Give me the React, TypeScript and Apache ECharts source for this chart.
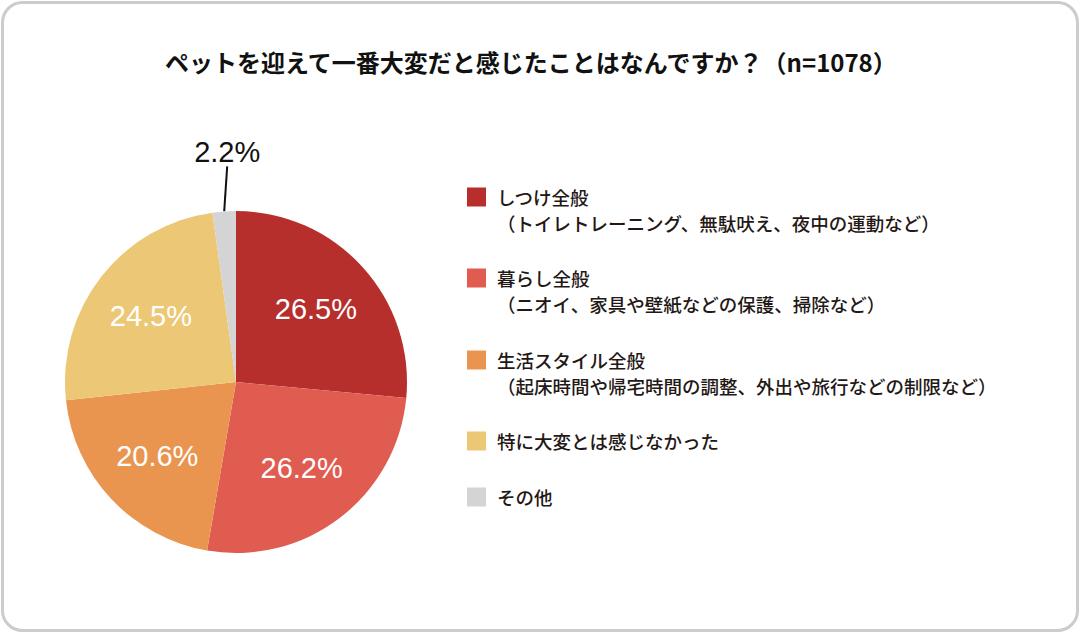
import React, { useEffect, useRef } from "react";
import * as echarts from "echarts";

const categories = ["しつけ全般", "暮らし全般", "生活スタイル全般", "特に大変とは感じなかった", "その他"];
const descriptions = [
  "（トイレトレーニング、無駄吠え、夜中の運動など）",
  "（ニオイ、家具や壁紙などの保護、掃除など）",
  "（起床時間や帰宅時間の調整、外出や旅行などの制限など）",
  "",
  "",
];
const values = [26.5, 26.2, 20.6, 24.5, 2.2];
const colors = ["#b72f2d", "#e05b50", "#e9954f", "#ecc775", "#d4d4d4"];
const legendCenters = [197, 278, 360, 441, 497];
const titleText = "ペットを迎えて一番大変だと感じたことはなんですか？（n=1078）";

const JP = '"Noto Sans CJK JP", "Noto Sans", sans-serif';
const NUM = '"Liberation Sans", Arial, Helvetica, sans-serif';

export default function App() {
  const ref = useRef<HTMLDivElement>(null);
  useEffect(() => {
    if (!ref.current) return;
    const chart = echarts.init(ref.current, null, { renderer: "svg" });
    const lh = 26;
    const legends = categories.map((name, i) => {
      const twoLine = descriptions[i] !== "";
      const blockH = twoLine ? lh * 3 : lh;
      return {
        data: [name],
        left: 467,
        top: legendCenters[i] - blockH / 2,
        padding: 0,
        orient: "vertical",
        selectedMode: false,
        icon: "rect",
        itemWidth: 19,
        itemHeight: 19,
        formatter: (n: string) => {
          const idx = categories.indexOf(n);
          return descriptions[idx] ? "\n" + n + "\n" + descriptions[idx] : n;
        },
        textStyle: {
          fontFamily: JP,
          fontSize: 18.5,
          fontWeight: 500,
          lineHeight: lh,
          color: "#231815",
          padding: [0, 0, 0, 6],
        },
      };
    });
    const pieData = categories.map((name, i) => ({
      name,
      value: values[i],
      itemStyle: { color: colors[i] },
    }));
    chart.setOption({
      animation: false,
      title: {
        text: titleText,
        left: 165,
        top: 49,
        padding: 0,
        textStyle: { fontFamily: JP, fontSize: 24, fontWeight: "bold", color: "#111" },
      },
      legend: legends,
      graphic: [
        {
          type: "rect",
          shape: { x: 2.5, y: 2.5, width: 1075, height: 628, r: 20 },
          style: { fill: "none", stroke: "#cccccc", lineWidth: 3 },
          silent: true,
          z: -10,
        },
      ],
      series: [
        {
          type: "pie",
          center: [236, 382],
          radius: [0, 171],
          startAngle: 90,
          clockwise: true,
          silent: true,
          data: pieData.map((d, i) => ({
            ...d,
            label: { show: i === 4 },
            labelLine: { show: i === 4 },
          })),
          label: {
            position: "outside",
            formatter: (p: any) => p.value.toFixed(1) + "%",
            fontFamily: NUM,
            fontSize: 29,
            color: "#111",
            padding: [0, 0, 4, 0],
          },
          labelLine: { length: 45, length2: 0, lineStyle: { color: "#111", width: 2 } },
          labelLayout: (p: any) => {
            if (p.dataIndex !== 4 || !p.labelLinePoints) return {};
            const pt = p.labelLinePoints[0];
            return { x: pt[0] + 3, y: pt[1] - 41, align: "center", verticalAlign: "bottom" };
          },
        },
        {
          type: "pie",
          center: [236, 382],
          radius: [39, 171],
          startAngle: 90,
          clockwise: true,
          silent: true,
          z: 3,
          data: pieData.map((d, i) => ({
            name: d.name,
            value: d.value,
            itemStyle: { color: "rgba(0,0,0,0)" },
            label: { show: i !== 4 },
          })),
          label: {
            position: "inside",
            formatter: (p: any) => p.value.toFixed(1) + "%",
            fontFamily: NUM,
            fontSize: 29,
            color: "#ffffff",
          },
          labelLine: { show: false },
        },
      ],
    });
    return () => chart.dispose();
  }, []);
  return (
    <div
      ref={ref}
      style={{ position: "absolute", left: 0, top: 0, width: 1081, height: 634, background: "#fff" }}
    />
  );
}
